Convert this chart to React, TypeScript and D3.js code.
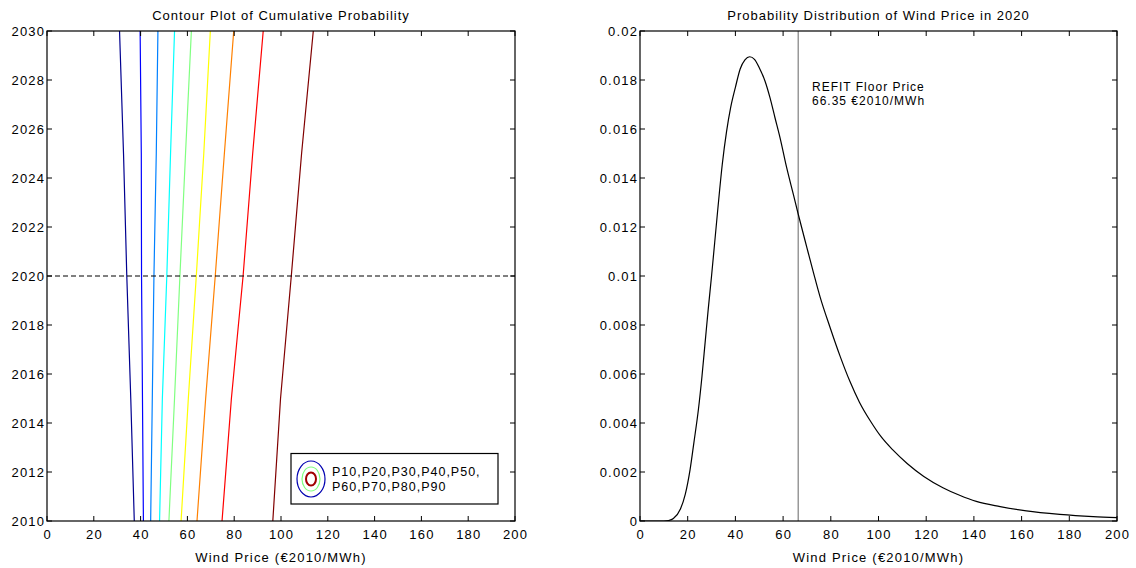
import React from "react";
import * as d3 from "d3";

// contour lines: wind price (€2010/MWh) at each year, per percentile
const years = [2010, 2015, 2020, 2025, 2030];
const p10 = [37.3, 35.8, 34.1, 32.7, 31.0];
const p20 = [41.2, 40.8, 40.4, 40.3, 39.8];
const p30 = [44.3, 45.0, 45.7, 46.7, 47.4];
const p40 = [48.1, 49.3, 51.2, 52.8, 54.5];
const p50 = [52.1, 54.5, 56.8, 59.2, 61.7];
const p60 = [57.3, 60.4, 63.8, 67.0, 69.8];
const p70 = [64.1, 67.8, 71.9, 75.8, 79.8];
const p80 = [74.8, 78.8, 83.8, 87.9, 92.4];
const p90 = [96.5, 99.8, 104.4, 108.8, 113.8];
const contourColors = ["#00008f", "#0000ff", "#0080ff", "#00ffff", "#80ff80", "#ffff00", "#ff8000", "#ff0000", "#800000"];
const legendText = ["P10,P20,P30,P40,P50,", "P60,P70,P80,P90"];

// probability density of wind price in 2020 (values x1e-3)
const pdfPrice = [0, 5, 10, 12, 14, 17, 19, 21, 22.6, 24.5, 26, 27.3, 28.6, 30, 32.5, 34.5, 36.3, 38, 40, 42, 44, 46, 48, 50, 52.4, 54.5, 56.6, 58.7, 61.5, 64.3, 66.4, 70, 72.7, 75.5, 79.7, 84, 88, 92, 97, 101, 106, 112, 119, 127, 134, 141, 151, 162, 176, 190, 200];
const pdfDensity = [0, 0, 0, 0.02, 0.1, 0.5, 1.1, 2.1, 3.2, 4.56, 5.92, 7.28, 8.64, 10.0, 12.6, 14.56, 15.9, 16.87, 17.7, 18.45, 18.82, 18.95, 18.84, 18.5, 17.96, 17.28, 16.46, 15.65, 14.42, 13.33, 12.5, 11.15, 10.15, 9.15, 7.9, 6.7, 5.7, 4.85, 4.02, 3.45, 2.9, 2.35, 1.82, 1.36, 1.05, 0.8, 0.59, 0.41, 0.27, 0.18, 0.14].map((v) => v / 1000);
const floorPrice = 66.35;
const floorLabel = ["REFIT Floor Price", "66.35 €2010/MWh"];

const priceTicks = [0, 20, 40, 60, 80, 100, 120, 140, 160, 180, 200];
const yearTicks = [2010, 2012, 2014, 2016, 2018, 2020, 2022, 2024, 2026, 2028, 2030];
const densityTicks = [0, 0.002, 0.004, 0.006, 0.008, 0.01, 0.012, 0.014, 0.016, 0.018, 0.02];

const W = 1136;
const H = 568;
const top = 31;
const bottom = 521;
const font = "'Liberation Sans', Arial, Helvetica, sans-serif";
const tl = 5;
const ls = 1.2;

type Props = {
  x0: number;
  x1: number;
  x: d3.ScaleLinear<number, number>;
  y: d3.ScaleLinear<number, number>;
  yTicks: number[];
  yFmt: (v: number) => string;
  title: string;
  children?: React.ReactNode;
};

const Panel = ({ x0, x1, x, y, yTicks, yFmt, title, children }: Props) => (
  <g fontFamily={font} fill="#000" letterSpacing={ls}>
    <defs>
      <clipPath id={"clip" + x0}>
        <rect x={x0} y={top} width={x1 - x0} height={bottom - top} />
      </clipPath>
    </defs>
    <g clipPath={`url(#clip${x0})`}>{children}</g>
    {priceTicks.map((t) => (
      <g key={"x" + t}>
        <line x1={x(t)} x2={x(t)} y1={bottom} y2={bottom - tl} stroke="#000" />
        <line x1={x(t)} x2={x(t)} y1={top} y2={top + tl} stroke="#000" />
        <text x={x(t) + ls / 2} y={538.5} textAnchor="middle" fontSize={13}>
          {t}
        </text>
      </g>
    ))}
    {yTicks.map((t) => (
      <g key={"y" + t}>
        <line x1={x0} x2={x0 + tl} y1={y(t)} y2={y(t)} stroke="#000" />
        <line x1={x1} x2={x1 - tl} y1={y(t)} y2={y(t)} stroke="#000" />
        <text x={x0 - 3 + ls} y={y(t) + 5} textAnchor="end" fontSize={13}>
          {yFmt(t)}
        </text>
      </g>
    ))}
    <rect x={x0} y={top} width={x1 - x0} height={bottom - top} fill="none" stroke="#000" strokeWidth={1.2} />
    <text x={(x0 + x1) / 2} y={20} textAnchor="middle" fontSize={13} letterSpacing={1}>
      {title}
    </text>
    <text x={(x0 + x1) / 2} y={561.5} textAnchor="middle" fontSize={13}>
      Wind Price (€2010/MWh)
    </text>
  </g>
);

export default function App() {
  const xl = d3.scaleLinear().domain([0, 200]).range([47, 515]);
  const yl = d3.scaleLinear().domain([2010, 2030]).range([bottom, top]);
  const xr = d3.scaleLinear().domain([0, 200]).range([640, 1117]);
  const yr = d3.scaleLinear().domain([0, 0.02]).range([bottom, top]);

  const series = [p10, p20, p30, p40, p50, p60, p70, p80, p90];
  const contour = d3
    .line<[number, number]>()
    .x((d) => xl(d[0]))
    .y((d) => yl(d[1]));
  const pdfLine = d3
    .line<number>()
    .x((_, i) => xr(pdfPrice[i]))
    .y((d) => yr(d))
    .curve(d3.curveMonotoneX);

  return (
    <svg width={W} height={H} style={{ position: "absolute", left: 0, top: 0, background: "#fff" }}>
      <rect width={W} height={H} fill="#fff" />
      <Panel x0={47} x1={515} x={xl} y={yl} yTicks={yearTicks} yFmt={(v) => String(v)} title="Contour Plot of Cumulative Probability">
        {series.map((s, i) => (
          <path
            key={i}
            d={contour(s.map((v, j) => [v, years[j]] as [number, number])) || ""}
            fill="none"
            stroke={contourColors[i]}
            strokeWidth={1.2}
          />
        ))}
        <line x1={xl(0)} x2={xl(200)} y1={yl(2020)} y2={yl(2020)} stroke="#000" strokeDasharray="5,3" />
      </Panel>
      <g fontFamily={font} letterSpacing={1}>
        <rect x={291} y={453.5} width={207} height={50.5} fill="#fff" stroke="#000" strokeWidth={1.2} />
        <ellipse cx={311} cy={479} rx={14} ry={18} fill="none" stroke="#0000b0" strokeWidth={1.2} />
        <ellipse cx={311} cy={479} rx={9} ry={12} fill="none" stroke="#80ff80" strokeWidth={1.2} />
        <ellipse cx={311} cy={479} rx={5} ry={6.5} fill="none" stroke="#a00000" strokeWidth={2} />
        <text x={332} y={476} fontSize={12.5}>
          {legendText[0]}
        </text>
        <text x={332} y={491} fontSize={12.5}>
          {legendText[1]}
        </text>
      </g>
      <Panel
        x0={640}
        x1={1117}
        x={xr}
        y={yr}
        yTicks={densityTicks}
        yFmt={(v) => (v === 0 ? "0" : String(+v.toFixed(3)))}
        title="Probability Distribution of Wind Price in 2020"
      >
        <line x1={xr(floorPrice)} x2={xr(floorPrice)} y1={top} y2={bottom} stroke="#999" strokeWidth={1.5} />
        <path d={pdfLine(pdfDensity) || ""} fill="none" stroke="#000" strokeWidth={1.2} />
      </Panel>
      <g fontFamily={font} fontSize={12} letterSpacing={1}>
        <text x={812} y={91}>
          {floorLabel[0]}
        </text>
        <text x={812} y={105}>
          {floorLabel[1]}
        </text>
      </g>
    </svg>
  );
}
